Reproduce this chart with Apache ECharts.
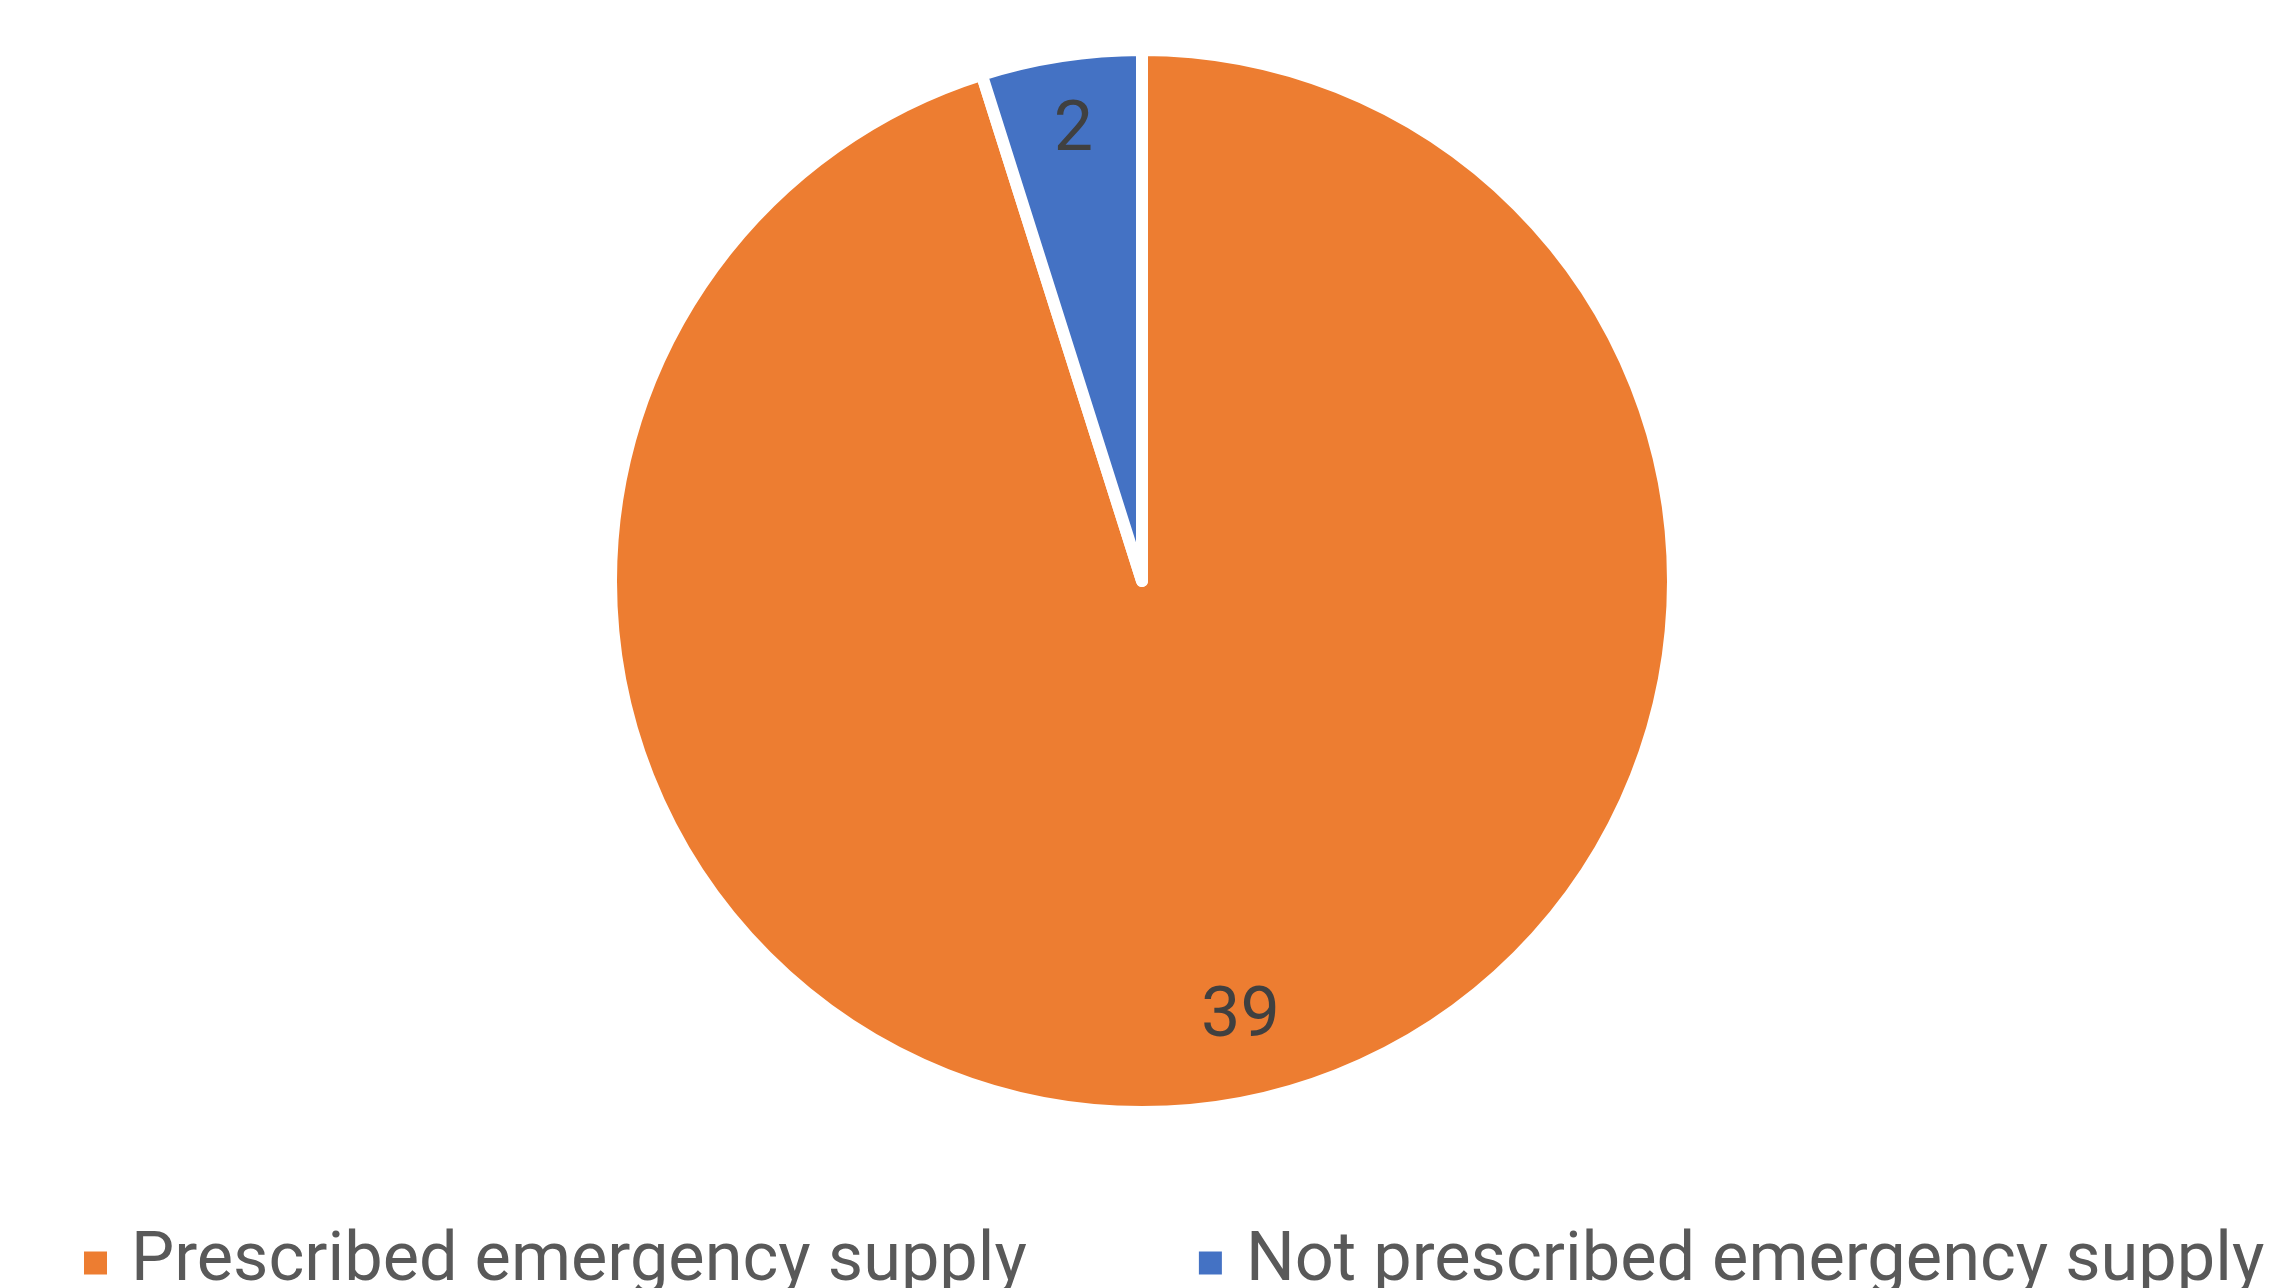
<!DOCTYPE html>
<html>
<head>
<meta charset="utf-8">
<script src="https://cdn.jsdelivr.net/npm/echarts@6/dist/echarts.min.js"></script>
<style>html,body{margin:0;padding:0;background:#fff;}#c{width:2281px;height:1288px;}</style>
</head>
<body>
<div id="c"></div>
<script>
const categories = ['Prescribed emergency supply', 'Not prescribed emergency supply'];
const values = [39, 2];
const colors = ['#ED7D31', '#4472C4'];

const data = categories.map((n, i) => ({ name: n, value: values[i], itemStyle: { color: colors[i] } }));
const chart = echarts.init(document.getElementById('c'), null, { renderer: 'canvas' });
const font = 'Roboto, "Liberation Sans", sans-serif';
chart.setOption({
  animation: false,
  backgroundColor: '#ffffff',
  legend: {
    data: categories,
    left: 82,
    top: 1227,
    width: 2199,
    padding: 0,
    itemWidth: 25,
    itemHeight: 25,
    itemGap: 170,
    icon: 'rect',
    textStyle: { fontFamily: font, fontSize: 68.5, color: '#595959', lineHeight: 72, padding: [0, 0, 0, 18] }
  },
  series: [
    {
      type: 'pie',
      center: [1142, 581],
      radius: 531,
      startAngle: 90,
      clockwise: true,
      data: data,
      itemStyle: { borderColor: '#ffffff', borderWidth: 12 },
      label: { show: false },
      labelLine: { show: false },
      emphasis: { disabled: true }
    },
    {
      type: 'pie',
      center: [1142, 581],
      radius: [360, 531],
      startAngle: 90,
      clockwise: true,
      silent: true,
      data: categories.map((n, i) => ({ name: n, value: values[i], itemStyle: { color: 'rgba(0,0,0,0)', borderWidth: 0 } })),
      label: { show: true, position: 'inside', formatter: '{c}', fontFamily: font, fontSize: 70, color: '#404040' },
      labelLine: { show: false },
      labelLayout: function (p) { return p.dataIndex === 0 ? { dx: 30, dy: -6 } : { dy: -5 }; },
      emphasis: { disabled: true }
    }
  ]
});
</script>
</body>
</html>
